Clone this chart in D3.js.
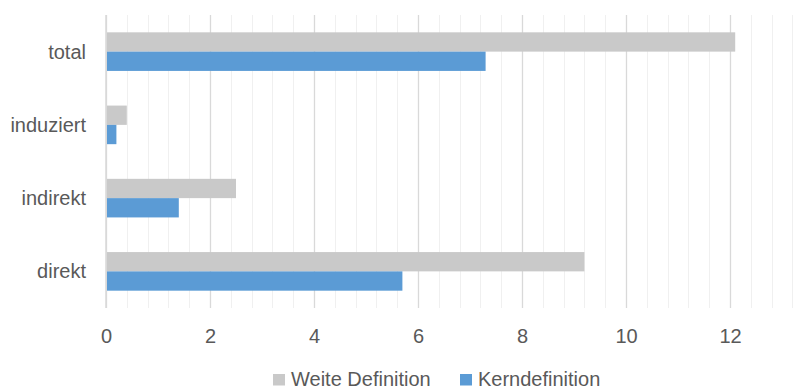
<!DOCTYPE html>
<html>
<head>
<meta charset="utf-8">
<script src="https://cdn.jsdelivr.net/npm/d3@7"></script>
<style>
  html, body { margin: 0; padding: 0; background: #fff; }
  svg text { font-family: "Liberation Sans", Arial, sans-serif; fill: #595959; }
</style>
</head>
<body>
<svg id="chart" width="806" height="390"></svg>
<script>
// Categories from top to bottom
const categories = ["total", "induziert", "indirekt", "direkt"];
// Series
const seriesNames = ["Weite Definition", "Kerndefinition"];
const weiteDefinition = [12.1, 0.4, 2.5, 9.2];
const kernDefinition = [7.3, 0.2, 1.4, 5.7];
const seriesColors = ["#c9c9c9", "#5b9bd5"];
// Axis
const xTicks = [0, 2, 4, 6, 8, 10, 12];
const xMax = 13.2;
const minorStep = 0.4;

const fontSize = 20;
const svg = d3.select("#chart");
const plot = { left: 106, right: 792.4, top: 15, bottom: 308 };

const x = d3.scaleLinear().domain([0, xMax]).range([plot.left, plot.right]);
const y = d3.scaleBand().domain(categories)
  .range([plot.top, plot.bottom])
  .paddingInner(0.473).paddingOuter(0.2365);
const ySub = d3.scaleBand().domain(seriesNames).range([0, y.bandwidth()]);

// Minor gridlines
const minorTicks = d3.range(0, xMax + 1e-9, minorStep).map(v => +v.toFixed(2));
svg.append("g").selectAll("line").data(minorTicks.filter(v => Math.abs(v / 2 - Math.round(v / 2)) > 1e-6))
  .join("line")
  .attr("x1", d => Math.round(x(d)) + 0.5).attr("x2", d => Math.round(x(d)) + 0.5)
  .attr("y1", plot.top).attr("y2", plot.bottom)
  .attr("stroke", "#f0f0f0").attr("stroke-width", 1);

// Major gridlines and tick labels via axis
const axis = d3.axisBottom(x).tickValues(xTicks).tickSize(-(plot.bottom - plot.top)).tickPadding(20.5).tickFormat(d3.format("d"));
const gx = svg.append("g").attr("transform", `translate(0,${plot.bottom})`).call(axis);
gx.select(".domain").remove();
gx.selectAll(".tick line").attr("stroke", "#d9d9d9").attr("stroke-width", 1.3);
gx.selectAll(".tick text").attr("font-size", fontSize).attr("fill", "#595959")
  .style("font-family", "'Liberation Sans', Arial, sans-serif");

// Bars
const rows = categories.map((c, i) => ({ cat: c, values: [weiteDefinition[i], kernDefinition[i]] }));
const groups = svg.append("g").selectAll("g").data(rows).join("g")
  .attr("transform", d => `translate(0,${y(d.cat)})`);
groups.selectAll("rect").data(d => d.values.map((v, j) => ({ v, s: seriesNames[j], j })))
  .join("rect")
  .attr("x", x(0) + 1)
  .attr("y", d => ySub(d.s))
  .attr("width", d => x(d.v) - x(0) - 1)
  .attr("height", ySub.bandwidth())
  .attr("fill", d => seriesColors[d.j]);

// Vertical axis line at zero
svg.append("line")
  .attr("x1", x(0)).attr("x2", x(0))
  .attr("y1", plot.top).attr("y2", plot.bottom)
  .attr("stroke", "#d9d9d9").attr("stroke-width", 1.5);

// Category labels
svg.append("g").selectAll("text").data(categories).join("text")
  .attr("x", 86)
  .attr("y", d => y(d) + y.bandwidth() / 2)
  .attr("text-anchor", "end")
  .attr("dominant-baseline", "central")
  .attr("font-size", fontSize)
  .text(d => d);

// Legend
const legendItems = [
  { name: seriesNames[0], color: seriesColors[0], x: 273 },
  { name: seriesNames[1], color: seriesColors[1], x: 460 }
];
const lg = svg.append("g").selectAll("g").data(legendItems).join("g")
  .attr("transform", d => `translate(${d.x},374)`);
lg.append("rect").attr("width", 12).attr("height", 11.5).attr("fill", d => d.color);
lg.append("text").attr("x", 18).attr("y", 12).attr("font-size", fontSize).text(d => d.name);
</script>
</body>
</html>
